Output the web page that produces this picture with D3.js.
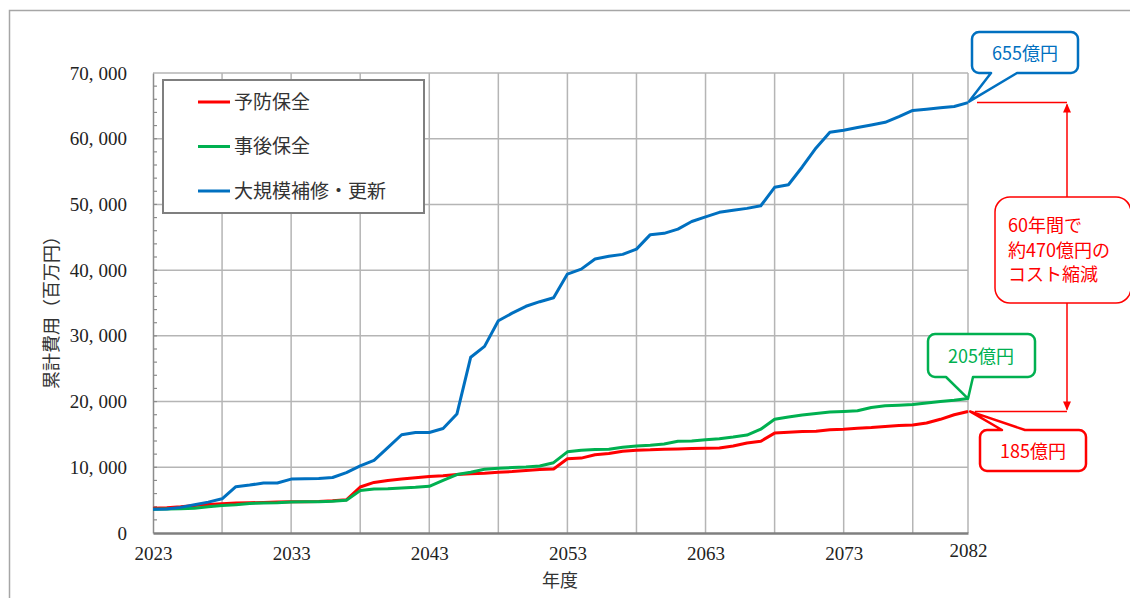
<!DOCTYPE html>
<html lang="ja">
<head>
  <meta charset="UTF-8" />
  <title>累計費用</title>
  <script src="https://cdn.jsdelivr.net/npm/d3@7"></script>
  <style>
    body, html { margin:0; padding:0; background:#fff; }
    svg { display:block; }
    .tick-label { font: 19px "Liberation Serif", serif; fill:#222; }
    .jp { font-family: "Noto Sans CJK JP", sans-serif; }
  </style>
</head>
<body>
  <svg id="chart" width="1130" height="598"></svg>

  <script>
    // 年度
    const years = d3.range(2023, 2083);

    // 累計費用（百万円）
    const yobou = [  // 予防保全
      3750,3850,4000,4200,4350,4450,4550,4600,4650,4700,
      4750,4750,4800,4900,5050,7000,7700,8000,8200,8400,
      8600,8700,8900,9000,9100,9250,9350,9500,9650,9750,
      11300,11400,11900,12100,12450,12600,12650,12750,12800,12850,
      12900,12950,13250,13700,13950,15200,15350,15450,15500,15700,
      15800,15950,16050,16200,16350,16450,16750,17300,18000,18500
    ];
    const jigo = [  // 事後保全
      3600,3650,3700,3750,4000,4200,4300,4500,4550,4600,
      4700,4750,4750,4850,5000,6450,6700,6750,6850,6950,
      7100,8000,8900,9250,9700,9850,9950,10050,10200,10700,
      12350,12600,12700,12750,13050,13250,13350,13550,13950,14000,
      14200,14350,14600,14900,15800,17300,17650,17950,18200,18400,
      18500,18600,19100,19350,19450,19550,19800,20000,20200,20450
    ];
    const daikibo = [  // 大規模補修・更新
      3600,3650,3900,4300,4700,5200,7050,7300,7600,7600,
      8200,8250,8300,8450,9200,10200,11050,13000,14950,15300,
      15300,15900,18100,26750,28400,32300,33450,34500,35200,35800,
      39400,40150,41700,42100,42400,43200,45400,45600,46250,47400,
      48100,48800,49100,49400,49800,52600,53000,55700,58600,61000,
      61300,61700,62100,62500,63350,64300,64500,64700,64900,65500
    ];

    const seriesNames = ['予防保全', '事後保全', '大規模補修・更新'];
    const seriesColors = ['#ff0000', '#00b050', '#0070c0'];
    const xTicks = [2023, 2033, 2043, 2053, 2063, 2073, 2082];
    const xGrid = [2028, 2033, 2038, 2043, 2048, 2053, 2058, 2063, 2068, 2073, 2078, 2082];
    const yTicks = [0, 10000, 20000, 30000, 40000, 50000, 60000, 70000];
    const calloutTexts = ['185億円', '205億円', '655億円'];
    const noteLines = ['60年間で', '約470億円の', 'コスト縮減'];

    const svg = d3.select('#chart');

    // outer frame
    svg.append('rect')
      .attr('x', 9.5).attr('y', 10.5)
      .attr('width', 1300).attr('height', 700)
      .attr('fill', 'none').attr('stroke', '#a6a6a6').attr('stroke-width', 1.5);

    const x = d3.scaleLinear().domain([2023, 2082]).range([153, 968]);
    const y = d3.scaleLinear().domain([0, 70000]).range([533, 73]);

    // grid
    svg.append('g').selectAll('line').data(yTicks.slice(1)).join('line')
      .attr('x1', x(2023)).attr('x2', x(2082))
      .attr('y1', d => y(d)).attr('y2', d => y(d))
      .attr('stroke', '#b5b5b5').attr('stroke-width', 1.5);
    svg.append('g').selectAll('line').data(xGrid).join('line')
      .attr('x1', d => x(d)).attr('x2', d => x(d))
      .attr('y1', y(0)).attr('y2', y(70000))
      .attr('stroke', '#b5b5b5').attr('stroke-width', 1.5);

    // y axis
    const gy = svg.append('g')
      .attr('transform', `translate(${x(2023)},0)`)
      .call(d3.axisLeft(y).tickValues(yTicks).tickSize(0).tickPadding(26));
    gy.select('.domain').attr('stroke', '#8c8c8c').attr('stroke-width', 1.5);
    gy.selectAll('.tick text')
      .attr('class', 'tick-label').attr('font-size', null).attr('font-family', null)
      .each(function(d) {
        const parts = d3.format(',')(d).split(',');
        const t = d3.select(this).text(null);
        if (parts.length > 1) {
          t.append('tspan').text(parts[0] + ',');
          t.append('tspan').attr('dx', 5).text(parts[1]);
        } else {
          t.text(parts[0]);
        }
      });
    // minor ticks
    svg.append('g').selectAll('line').data(d3.range(2000, 70000, 2000)).join('line')
      .attr('x1', x(2023)).attr('x2', x(2023) + 4)
      .attr('y1', d => y(d)).attr('y2', d => y(d))
      .attr('stroke', '#8c8c8c').attr('stroke-width', 1.2);

    // x axis
    const gx = svg.append('g')
      .attr('transform', `translate(0,${y(0)})`)
      .call(d3.axisBottom(x).tickValues(xTicks).tickFormat(d3.format('d')).tickSize(0).tickPadding(14));
    gx.select('.domain').attr('stroke', '#7f7f7f').attr('stroke-width', 2.5);
    gx.selectAll('.tick text')
      .attr('class', 'tick-label').attr('font-size', null).attr('font-family', null)
      .attr('y', d => d === 2082 ? 11 : 14);

    // axis titles
    svg.append('text').attr('class', 'jp')
      .attr('transform', 'translate(52,308) rotate(-90)')
      .attr('text-anchor', 'middle').attr('dy', '0.35em')
      .attr('font-size', 18).attr('fill', '#333')
      .text('累計費用（百万円）');
    svg.append('text').attr('class', 'jp')
      .attr('x', 560).attr('y', 587)
      .attr('text-anchor', 'middle')
      .attr('font-size', 18).attr('fill', '#333')
      .text('年度');

    // lines
    const series = [yobou, jigo, daikibo];
    const line = d3.line().x((d, i) => x(years[i])).y(d => y(d));
    series.forEach((s, k) => {
      svg.append('path')
        .attr('d', line(s))
        .attr('fill', 'none')
        .attr('stroke', seriesColors[k])
        .attr('stroke-width', 3)
        .attr('stroke-linejoin', 'round');
    });

    // legend
    const lg = svg.append('g');
    lg.append('rect')
      .attr('x', 163).attr('y', 80).attr('width', 261).attr('height', 133)
      .attr('fill', '#fff').attr('stroke', '#7f7f7f').attr('stroke-width', 2);
    seriesNames.forEach((n, i) => {
      const ly = 102 + i * 44.5;
      lg.append('line')
        .attr('x1', 198).attr('x2', 230).attr('y1', ly).attr('y2', ly)
        .attr('stroke', seriesColors[i]).attr('stroke-width', 3);
      lg.append('text').attr('class', 'jp')
        .attr('x', 234).attr('y', ly).attr('dy', '0.36em')
        .attr('font-size', 19).attr('fill', '#333')
        .text(n);
    });

    // callout path: rounded box with a pointer on top or bottom side
    function calloutPath(x0, y0, x1, y1, r, side, a, b, tip) {
      const p = d3.path();
      p.moveTo(x0 + r, y0);
      if (side === 'top') { p.lineTo(a, y0); p.lineTo(tip[0], tip[1]); p.lineTo(b, y0); }
      p.lineTo(x1 - r, y0);
      p.arcTo(x1, y0, x1, y0 + r, r);
      p.lineTo(x1, y1 - r);
      p.arcTo(x1, y1, x1 - r, y1, r);
      if (side === 'bottom') { p.lineTo(b, y1); p.lineTo(tip[0], tip[1]); p.lineTo(a, y1); }
      p.lineTo(x0 + r, y1);
      p.arcTo(x0, y1, x0, y1 - r, r);
      p.lineTo(x0, y0 + r);
      p.arcTo(x0, y0, x0 + r, y0, r);
      p.closePath();
      return p.toString();
    }

    const xEnd = x(2082);
    const callouts = [
      { box: [980, 430, 1086, 471], side: 'top', a: 1002, b: 1025, tip: [xEnd + 2, y(yobou[59])], tx: 1033, ty: 458 },
      { box: [928, 334, 1035, 377], side: 'bottom', a: 946, b: 973, tip: [xEnd, y(jigo[59])], tx: 981, ty: 363 },
      { box: [972, 32, 1078, 73], side: 'bottom', a: 991, b: 1017, tip: [xEnd + 1, y(daikibo[59]) - 1], tx: 1025, ty: 60 }
    ];
    callouts.forEach((c, i) => {
      const [x0, y0, x1, y1] = c.box;
      svg.append('path')
        .attr('d', calloutPath(x0, y0, x1, y1, 7, c.side, c.a, c.b, c.tip))
        .attr('fill', '#fff').attr('stroke', seriesColors[i]).attr('stroke-width', 2.5)
        .attr('stroke-linejoin', 'round');
      svg.append('text').attr('class', 'jp')
        .attr('x', c.tx).attr('y', c.ty).attr('text-anchor', 'middle')
        .attr('font-size', 18).attr('fill', seriesColors[i])
        .text(calloutTexts[i]);
    });

    // reduction dimension
    const red = '#ff0000';
    const yTop = y(daikibo[59]);
    const yBot = y(yobou[59]);
    const ax = 1067;
    const dim = svg.append('g').attr('stroke', red).attr('stroke-width', 1.5).attr('fill', 'none');
    dim.append('line').attr('x1', 977).attr('x2', ax).attr('y1', yTop).attr('y2', yTop);
    dim.append('line').attr('x1', 975).attr('x2', ax).attr('y1', yBot).attr('y2', yBot);
    dim.append('line').attr('x1', ax).attr('x2', ax).attr('y1', yTop + 2).attr('y2', 197);
    dim.append('line').attr('x1', ax).attr('x2', ax).attr('y1', 303).attr('y2', yBot - 2);
    svg.append('path')
      .attr('d', `M${ax},${yTop + 1} L${ax - 4},${yTop + 10} L${ax + 4},${yTop + 10} Z`)
      .attr('fill', red);
    svg.append('path')
      .attr('d', `M${ax},${yBot - 1} L${ax - 4},${yBot - 10} L${ax + 4},${yBot - 10} Z`)
      .attr('fill', red);

    svg.append('rect')
      .attr('x', 995).attr('y', 197).attr('width', 136).attr('height', 106).attr('rx', 15)
      .attr('fill', '#fff').attr('stroke', red).attr('stroke-width', 1.5);
    svg.append('text').attr('class', 'jp')
      .attr('font-size', 18).attr('fill', red)
      .selectAll('tspan').data(noteLines).join('tspan')
      .attr('x', 1008).attr('y', (d, i) => 232 + i * 24.5)
      .text(d => d);
  </script>
</body>
</html>
